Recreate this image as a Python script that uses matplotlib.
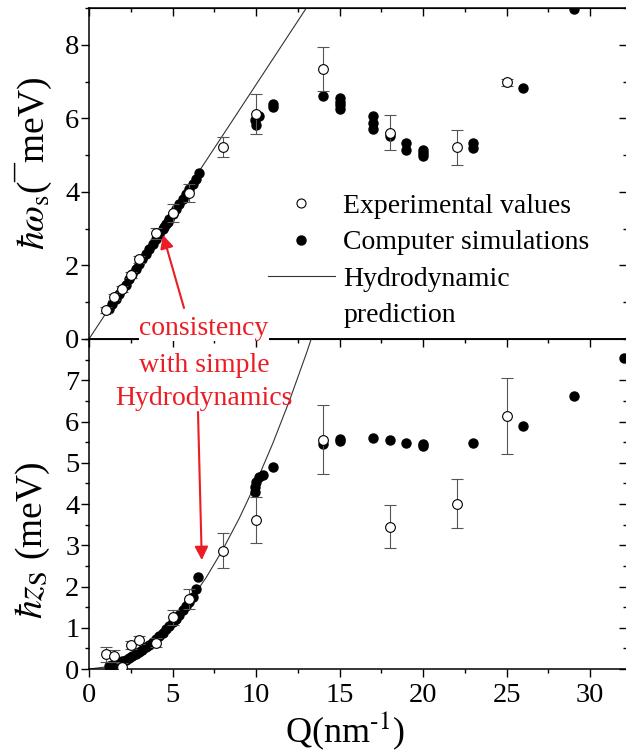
import matplotlib
matplotlib.use('Agg')
import matplotlib.pyplot as plt
from matplotlib.lines import Line2D
from matplotlib.ticker import MultipleLocator

plt.rcParams['font.family'] = ['Liberation Serif', 'DejaVu Serif']
plt.rcParams['mathtext.fontset'] = 'stix'

# --- sound frequency (top panel) ---
q_exp_w = [1.0, 1.5, 2.0, 2.5, 3.0, 4.0, 5.0, 6.0, 8.0, 10.0, 14.0, 18.0, 22.0, 25.0]
w_exp = [0.79, 1.13, 1.37, 1.75, 2.17, 2.87, 3.43, 3.97, 5.23, 6.12, 7.34, 5.61, 5.21, 6.98]
w_err = [0.08, 0.08, 0.08, 0.08, 0.10, 0.15, 0.24, 0.25, 0.27, 0.55, 0.60, 0.47, 0.47, 0.10]

q_sim_w = [1.2, 1.4, 1.6, 1.8, 2.0, 2.2, 2.4, 2.6, 2.8, 3.0, 3.2, 3.4, 3.6, 3.8,
           4.0, 4.2, 4.4, 4.5, 4.6, 4.7, 4.8, 5.0, 5.2, 5.4, 5.6, 5.8, 6.0, 6.2,
           6.4, 6.6, 9.95, 10.0, 10.2, 11.0, 11.0, 14.0, 15.0, 15.0, 15.0, 15.0,
           17.0, 17.0, 17.0, 18.0, 19.0, 19.0, 20.0, 20.0, 20.0, 23.0, 23.0,
           26.0, 29.0]
w_sim = [0.82, 0.95, 1.08, 1.22, 1.36, 1.48, 1.62, 1.76, 1.90, 2.04, 2.17, 2.31,
         2.45, 2.58, 2.71, 2.85, 2.99, 3.05, 3.12, 3.18, 3.25, 3.39, 3.53, 3.66,
         3.80, 3.93, 4.08, 4.22, 4.36, 4.52, 5.95, 5.82, 6.05, 6.30, 6.40, 6.61,
         6.55, 6.45, 6.35, 6.25, 6.05, 5.87, 5.70, 5.52, 5.33, 5.15, 5.15, 5.05,
         4.98, 5.32, 5.19, 6.82, 8.98]

hydro_q_w = [0.0, 13.5]
hydro_w = [0.0, 9.34]

# --- sound damping (bottom panel) ---
q_exp_z = [1.0, 1.5, 2.0, 2.5, 3.0, 4.0, 5.0, 6.0, 8.0, 10.0, 14.0, 18.0, 22.0, 25.0]
z_exp = [0.36, 0.31, 0.05, 0.58, 0.71, 0.64, 1.25, 1.70, 2.87, 3.61, 5.56, 3.45, 4.01, 6.14]
z_err = [0.18, 0.15, 0.10, 0.10, 0.10, 0.10, 0.18, 0.25, 0.43, 0.55, 0.83, 0.52, 0.60, 0.92]

q_sim_z = [1.2, 1.4, 1.6, 1.8, 2.0, 2.2, 2.4, 2.6, 2.8, 3.0, 3.2, 3.4, 3.6, 3.8,
           4.0, 4.2, 4.4, 4.6, 4.8, 5.0, 5.2, 5.4, 5.6, 5.8, 6.0, 6.2, 6.4, 6.55,
           9.95, 9.95, 10.0, 10.2, 10.4, 11.0, 14.0, 15.0, 15.0, 17.0, 18.0, 19.0,
           20.0, 20.0, 23.0, 26.0, 29.0, 32.0]
z_sim = [0.07, 0.09, 0.12, 0.15, 0.19, 0.23, 0.27, 0.31, 0.36, 0.42, 0.47, 0.53,
         0.59, 0.66, 0.73, 0.80, 0.88, 0.96, 1.04, 1.13, 1.22, 1.32, 1.42, 1.52,
         1.63, 1.75, 1.93, 2.24, 4.28, 4.42, 4.54, 4.66, 4.70, 4.90, 5.45, 5.58,
         5.52, 5.59, 5.54, 5.48, 5.45, 5.40, 5.49, 5.88, 6.63, 7.55]

hydro_q_z = [0, 1, 2, 3, 4, 5, 6, 7, 8, 9, 10, 11, 12, 13, 13.4]
hydro_z = [0, 0.05, 0.18, 0.41, 0.72, 1.13, 1.63, 2.21, 2.89, 3.66, 4.52, 5.47, 6.51, 7.64, 8.12]

red = '#ec1c24'
err_col = '#555555'

fig = plt.figure(figsize=(6.26, 7.54), dpi=100)
ax1 = fig.add_axes([0.1422, 0.5504, 0.8594, 0.4390])
ax2 = fig.add_axes([0.1422, 0.1127, 0.8594, 0.4377])


def draw_panel(ax, q_line, y_line, q_sim, y_sim, q_exp, y_exp, y_err):
    ax.plot(q_line, y_line, color='#333333', lw=0.8, zorder=2)
    ax.plot(q_sim, y_sim, 'o', color='black', ms=6.5, zorder=3)
    ax.errorbar(q_exp, y_exp, yerr=y_err, fmt='o', ms=7, mfc='white', mec='black',
                mew=0.8, ecolor=err_col, elinewidth=0.8, capsize=4.5, capthick=0.8,
                zorder=4)


draw_panel(ax1, hydro_q_w, hydro_w, q_sim_w, w_sim, q_exp_w, w_exp, w_err)
draw_panel(ax2, hydro_q_z, hydro_z, q_sim_z, z_sim, q_exp_z, z_exp, z_err)

ax1.set_ylim(0, 9)
ax1.yaxis.set_major_locator(MultipleLocator(2))
ax1.yaxis.set_minor_locator(MultipleLocator(1))
ax2.set_ylim(0, 8)
ax2.set_yticks(range(0, 8))
ax2.yaxis.set_minor_locator(MultipleLocator(0.5))

for ax in (ax1, ax2):
    ax.set_xlim(0, 32.2)
    ax.xaxis.set_major_locator(MultipleLocator(5))
    ax.xaxis.set_minor_locator(MultipleLocator(2.5))
    for s in ax.spines.values():
        s.set_linewidth(1.1)
    ax.tick_params(which='both', direction='out', width=1.0, labelsize=20.5, pad=1)
    ax.tick_params(which='major', length=6)
    ax.tick_params(which='minor', length=3)
    # inward ticks on the top and right sides
    sx = ax.secondary_xaxis('top')
    sx.xaxis.set_major_locator(MultipleLocator(5))
    sx.xaxis.set_minor_locator(MultipleLocator(2.5))
    sx.tick_params(which='both', direction='in', labeltop=False, width=1.0)
    sx.tick_params(which='major', length=6)
    sx.tick_params(which='minor', length=3)
    sy = ax.secondary_yaxis('right')
    sy.yaxis.set_major_locator(ax.yaxis.get_major_locator())
    sy.yaxis.set_minor_locator(ax.yaxis.get_minor_locator())
    sy.tick_params(which='both', direction='in', labelright=False, width=1.0)
    sy.tick_params(which='major', length=6)
    sy.tick_params(which='minor', length=3)

ax1.tick_params(axis='x', labelbottom=False)
ax2.tick_params(axis='x', pad=4)

fig.text(33 / 626, 1 - 163 / 754, r'$\hbar\omega_{\mathrm{s}}$(¯meV)', rotation=90,
         ha='center', va='center', fontsize=27)
fig.text(33 / 626, 1 - 540 / 754, r'$\hbar z_{\mathrm{S}}$ (meV)', rotation=90,
         ha='center', va='center', fontsize=27)
fig.text(345 / 626, 1 - 752 / 754, r'Q(nm$^{\text{-1}}$)', ha='center', va='bottom',
         fontsize=26)

handles = [
    Line2D([], [], ls='none', marker='o', ms=6.5, mfc='white', mec='black', mew=0.8),
    Line2D([], [], ls='none', marker='o', ms=6.5, color='black'),
    Line2D([], [], color='#333333', lw=0.8),
    Line2D([], [], ls='none'),
]
labels = ['Experimental values', 'Computer simulations', 'Hydrodynamic', 'prediction']
ax1.legend(handles, labels, loc='upper left', bbox_to_anchor=(0.333, 0.44),
           frameon=False, fontsize=20, handlelength=2.4, handletextpad=0.3,
           labelspacing=0.4, borderpad=0, borderaxespad=0)

# red annotation pointing at the low-Q agreement
fig.text(204 / 626, 1 - 329 / 754, 'consistency', ha='center', va='center',
         color=red, fontsize=20, zorder=10,
         bbox=dict(fc='white', ec='none', pad=0))
fig.text(204 / 626, 1 - 382 / 754, 'with simple\nHydrodynamics', ha='center',
         va='center', color=red, fontsize=20, linespacing=1.45, zorder=10)

arrow = dict(arrowstyle='-|>', color=red, lw=1.5, mutation_scale=20, shrinkA=0, shrinkB=0)
ax1.annotate('', xy=(4.43, 2.83), xycoords='data',
             xytext=(184 / 626, 1 - 308 / 754), textcoords='figure fraction',
             arrowprops=arrow)
ax2.annotate('', xy=(6.75, 2.64), xycoords='data',
             xytext=(198 / 626, 1 - 412 / 754), textcoords='figure fraction',
             arrowprops=arrow)

fig.savefig('out.png', dpi=100)
